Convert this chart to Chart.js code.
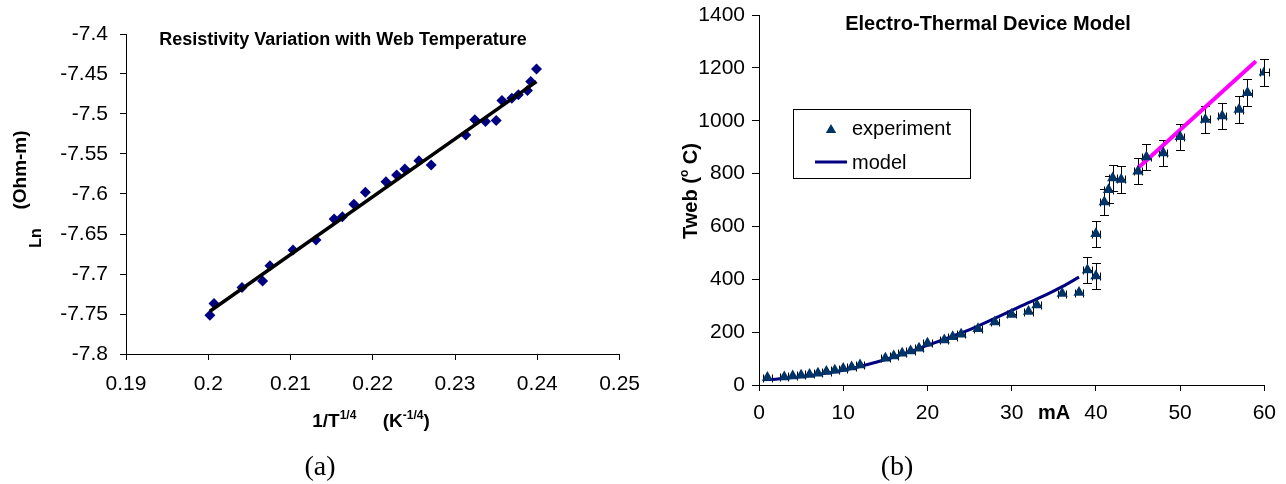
<!DOCTYPE html>
<html><head><meta charset="utf-8">
<script src="https://cdn.jsdelivr.net/npm/chart.js@4.4.1/dist/chart.umd.min.js"></script>
<style>
html,body{margin:0;padding:0;background:#fff;}
#wrap{position:relative;width:1286px;height:484px;overflow:hidden;background:#fff;}
#c1{position:absolute;left:0;top:0;}
#c2{position:absolute;left:640px;top:-5px;}
</style></head><body>
<div id="wrap">
<canvas id="c1" width="652" height="484"></canvas>
<canvas id="c2" width="646" height="489"></canvas>
</div>
<script>
// ---------- Data: chart (a) ----------
const lnX = [0.2002,0.2007,0.2041,0.2066,0.2075,0.2103,0.2131,0.2153,0.2163,0.2177,0.2191,0.2216,0.2229,0.2239,0.2256,0.2271,0.2313,0.2324,0.2337,0.2350,0.2357,0.2369,0.2377,0.2388,0.2392,0.2399];
const lnY = [-7.7515,-7.7369,-7.7169,-7.7086,-7.6898,-7.670,-7.6576,-7.6313,-7.6284,-7.6129,-7.5979,-7.5846,-7.5762,-7.5687,-7.5583,-7.5637,-7.5261,-7.5073,-7.5094,-7.5082,-7.4832,-7.4802,-7.4760,-7.4706,-7.4594,-7.4438];
const fitX = [0.2002, 0.2399];
const fitY = [-7.7465, -7.4596];
const aXTicks = [0.19,0.20,0.21,0.22,0.23,0.24,0.25];
const aXLabels = ['0.19','0.2','0.21','0.22','0.23','0.24','0.25'];
const aYTicks = [-7.8,-7.75,-7.7,-7.65,-7.6,-7.55,-7.5,-7.45,-7.4];
const aYLabels = ['-7.8','-7.75','-7.7','-7.65','-7.6','-7.55','-7.5','-7.45','-7.4'];

// ---------- Data: chart (b) ----------
const expI = [1,3,4,5,6,7,8,9,10,11,12,15,16,17,18,19,20,22,23,24,26,28,30,32,33,36,38,39,40,40,41,41.5,42,43,45,46,48,50,53,55,57,58,60];
const expT = [28,30,34,37,40,44,51,56,62,68,76,101,110,120,129,139,158,170,183,192,213,238,267,278,303,346,350,435,412,572,692,739,783,778,809,863,878,939,1005,1018,1042,1106,1183];
const errT = [0,0,0,0,0,0,0,0,0,0,0,0,0,0,0,0,0,0,0,0,0,0,0,0,0,0,0,50,50,50,50,50,50,50,50,50,50,50,50,50,50,50,50];
const errI = 0.5;
const modelI = [0.5,2,4,6,8,10,12,14,16,18,20,22,24,26,28,30,32,34,36,38];
const modelT = [20,22,28,36,45,56,70,87,106,127,150,173,197,223,252,282,312,340,372,408];
const hotI = [45.0, 59.0];
const hotT = [821, 1225];
const bXTicks = [0,10,20,30,40,50,60];
const bXLabels = ['0','10','20','30','40','50','60'];
const bYTicks = [0,200,400,600,800,1000,1200,1400];
const bYLabels = ['0','200','400','600','800','1000','1200','1400'];

const FONT = "'Liberation Sans', Arial, Helvetica, sans-serif";
const SERIF = "'Liberation Serif', 'Times New Roman', serif";
const pts = (xs, ys) => xs.map((x, i) => ({x: x, y: ys[i]}));

function axis(tickLen, pad, min, max, ticks, labels, fitFn) {
  return {
    type: 'linear', min: min, max: max,
    grid: {display: true, drawOnChartArea: false, drawTicks: true, tickLength: tickLen, color: '#000', lineWidth: 1},
    border: {display: true, color: '#000', width: 1},
    ticks: {color: '#000', font: {family: FONT, size: 21}, padding: pad, maxRotation: 0, autoSkip: false,
            callback: (v, i) => labels[i]},
    afterBuildTicks: sc => { sc.ticks = ticks.map(v => ({value: v})); },
    afterFit: fitFn
  };
}
function drawRich(ctx, parts, cx, baseline) {
  let total = 0;
  parts.forEach(p => { ctx.font = p[1]; total += ctx.measureText(p[0]).width; });
  let x = cx - total / 2;
  ctx.textAlign = 'left'; ctx.textBaseline = 'alphabetic';
  parts.forEach(p => { ctx.font = p[1]; ctx.fillText(p[0], x, baseline - p[2]); x += ctx.measureText(p[0]).width; });
}

// ---------- Chart (a) ----------
const textA = {id: 'textA', afterDraw(chart) {
  const ctx = chart.ctx; ctx.save(); ctx.fillStyle = '#000';
  ctx.font = 'bold 18px ' + FONT; ctx.textAlign = 'center'; ctx.textBaseline = 'alphabetic';
  ctx.fillText('Resistivity Variation with Web Temperature', 343, 45);
  ctx.save(); ctx.translate(37, 238); ctx.rotate(-Math.PI / 2);
  ctx.font = 'bold 16px ' + FONT; ctx.textAlign = 'center'; ctx.textBaseline = 'middle';
  ctx.fillText('Ln', 0, 0); ctx.restore();
  ctx.save(); ctx.translate(21, 170); ctx.rotate(-Math.PI / 2);
  ctx.font = 'bold 19px ' + FONT; ctx.textAlign = 'center'; ctx.textBaseline = 'middle';
  ctx.fillText('(Ohm-m)', 0, 0); ctx.restore();
  const m = 'bold 19px ' + FONT, s = 'bold 12px ' + FONT;
  drawRich(ctx, [['1/T', m, 0], ['1/4', s, 8], ['     ', m, 0], ['(K', m, 0], ['-1/4', s, 8], [')', m, 0]], 371, 427);
  ctx.font = '28px ' + SERIF; ctx.textAlign = 'center'; ctx.textBaseline = 'alphabetic';
  ctx.fillText('(a)', 320, 475);
  ctx.restore();
}};
new Chart(document.getElementById('c1'), {
  type: 'scatter',
  data: {datasets: [
    {label: 'fit', data: pts(fitX, fitY), showLine: true, borderColor: '#000', borderWidth: 3.5, pointRadius: 0, fill: false},
    {label: 'data', data: pts(lnX, lnY), showLine: false, pointStyle: 'rectRot', pointRadius: 5.5, backgroundColor: '#000080', borderColor: '#000080', borderWidth: 0}
  ]},
  options: {responsive: false, animation: false, devicePixelRatio: 1,
    layout: {padding: {left: 0, top: 34, right: 20, bottom: 0}},
    plugins: {legend: {display: false}, title: {display: false}, tooltip: {enabled: false}},
    scales: {
      x: axis(6, 12, 0.19, 0.25, aXTicks, aXLabels, sc => { sc.height = 130; }),
      y: axis(6, 12, -7.8, -7.4, aYTicks, aYLabels, sc => { sc.width = 126; })
    }},
  plugins: [textA]
});

// ---------- Chart (b) ----------  (canvas shifted up 5px)
function triangle(ctx, x, y, r) {
  ctx.beginPath(); ctx.moveTo(x, y - r);
  ctx.lineTo(x + r * Math.sin(2 * Math.PI / 3), y + r / 2);
  ctx.lineTo(x - r * Math.sin(2 * Math.PI / 3), y + r / 2);
  ctx.closePath(); ctx.fill();
}
const errorBars = {id: 'errorBars', beforeDatasetsDraw(chart) {
  const ctx = chart.ctx, xs = chart.scales.x, ys = chart.scales.y;
  ctx.save(); ctx.strokeStyle = '#000'; ctx.lineWidth = 1;
  expI.forEach((xv, i) => {
    const px = Math.round(xs.getPixelForValue(xv)) + 0.5;
    const py = Math.round(ys.getPixelForValue(expT[i])) + 0.5;
    ctx.beginPath();
    const xl = Math.round(xs.getPixelForValue(xv - errI)) + 0.5, xr = Math.round(xs.getPixelForValue(xv + errI)) + 0.5;
    ctx.moveTo(xl, py); ctx.lineTo(xr, py);
    ctx.moveTo(xl, py - 4); ctx.lineTo(xl, py + 4);
    ctx.moveTo(xr, py - 4); ctx.lineTo(xr, py + 4);
    if (errT[i] > 0) {
      const yt = Math.round(ys.getPixelForValue(expT[i] + errT[i])) + 0.5;
      const yb = Math.round(ys.getPixelForValue(expT[i] - errT[i])) + 0.5;
      ctx.moveTo(px, yt); ctx.lineTo(px, yb);
      ctx.moveTo(px - 4.5, yt); ctx.lineTo(px + 4.5, yt);
      ctx.moveTo(px - 4.5, yb); ctx.lineTo(px + 4.5, yb);
    }
    ctx.stroke();
  });
  ctx.restore();
}};
const textB = {id: 'textB', afterDraw(chart) {
  const ctx = chart.ctx; ctx.save(); ctx.fillStyle = '#000';
  ctx.font = 'bold 20px ' + FONT; ctx.textAlign = 'center'; ctx.textBaseline = 'alphabetic';
  ctx.fillText('Electro-Thermal Device Model', 348, 35);
  ctx.fillText('mA', 414, 424);
  ctx.save(); ctx.translate(57, 196); ctx.rotate(-Math.PI / 2);
  const m = 'bold 20px ' + FONT, s = 'bold 12px ' + FONT;
  drawRich(ctx, [['Tweb (', m, 0], ['o', s, 9], [' C)', m, 0]], 0, 0);
  ctx.restore();
  ctx.font = '28px ' + SERIF; ctx.textAlign = 'center';
  ctx.fillText('(b)', 257, 480);
  ctx.fillStyle = '#fff'; ctx.fillRect(153, 114, 177, 69);
  ctx.strokeStyle = '#000'; ctx.lineWidth = 1; ctx.strokeRect(153.5, 114.5, 177, 69);
  ctx.fillStyle = '#003366'; triangle(ctx, 191, 135, 6);
  ctx.strokeStyle = '#000080'; ctx.lineWidth = 3;
  ctx.beginPath(); ctx.moveTo(175, 167); ctx.lineTo(207, 167); ctx.stroke();
  ctx.fillStyle = '#000'; ctx.font = '20px ' + FONT; ctx.textAlign = 'left'; ctx.textBaseline = 'middle';
  ctx.fillText('experiment', 212, 134);
  ctx.fillText('model', 212, 168);
  ctx.restore();
}};
new Chart(document.getElementById('c2'), {
  type: 'scatter',
  data: {datasets: [
    {label: 'experiment', data: pts(expI, expT), showLine: false, pointStyle: 'triangle', pointRadius: 6.5, backgroundColor: '#003366', borderColor: '#003366', borderWidth: 0},
    {label: 'model', data: pts(modelI, modelT), showLine: true, tension: 0.4, cubicInterpolationMode: 'monotone', borderColor: '#000080', borderWidth: 3, pointRadius: 0, fill: false},
    {label: 'model-hot', data: pts(hotI, hotT), showLine: true, borderColor: '#ff00ff', borderWidth: 4, pointRadius: 0, fill: false}
  ]},
  options: {responsive: false, animation: false, devicePixelRatio: 1,
    layout: {padding: {left: 0, top: 20, right: 21, bottom: 0}},
    plugins: {legend: {display: false}, title: {display: false}, tooltip: {enabled: false}},
    scales: {
      x: axis(6, 10, 0, 60, bXTicks, bXLabels, sc => { sc.height = 99; }),
      y: axis(7, 7, 0, 1400, bYTicks, bYLabels, sc => { sc.width = 119; })
    }},
  plugins: [errorBars, textB]
});
</script>
</body></html>
